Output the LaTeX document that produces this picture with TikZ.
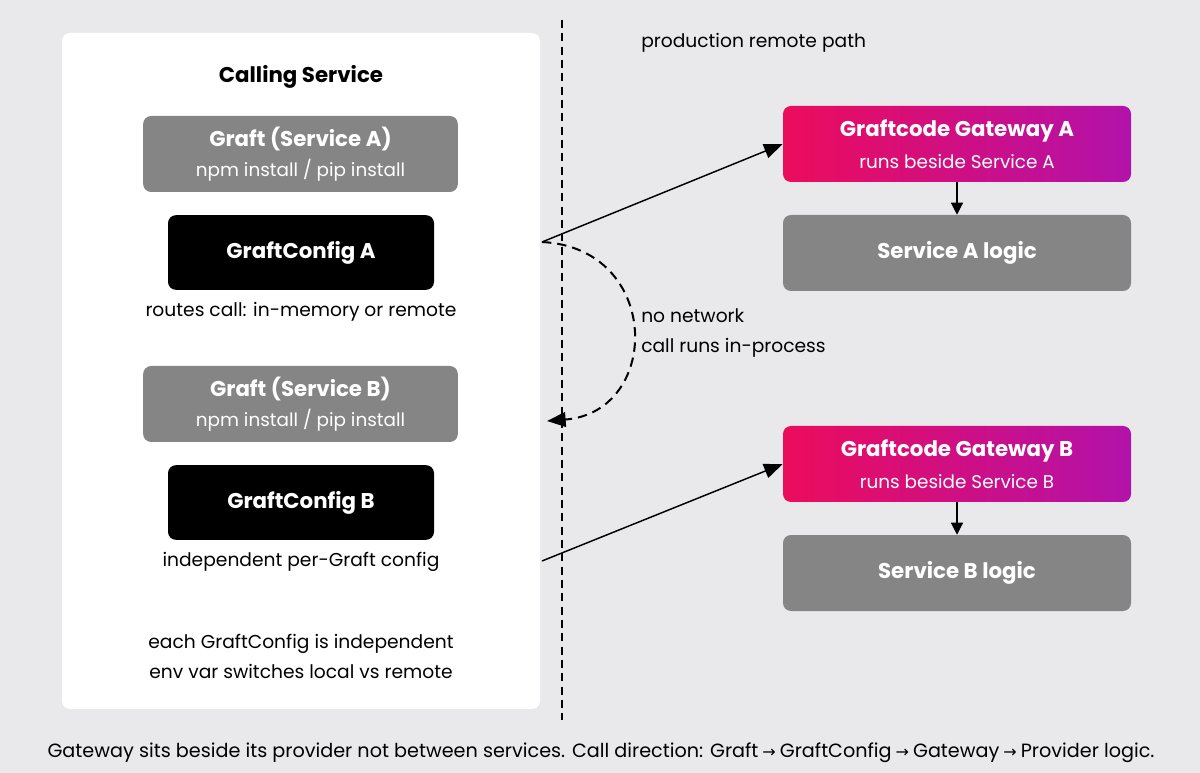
\documentclass[tikz,border=0pt]{standalone}
\usepackage{fontspec}
\setmainfont{Poppins}
\newfontfamily\symfont{DejaVu Sans}
\usetikzlibrary{arrows.meta, positioning}
\definecolor{gfbg}{HTML}{E9E9EC}
\definecolor{gfgrey}{HTML}{858585}
\definecolor{gfpink}{HTML}{EC0C5C}
\definecolor{gfpurple}{HTML}{B212AA}
\newcommand{\gfsub}[1]{{\fontsize{13.8}{16}\selectfont\mdseries #1}}
\newcommand{\gfarr}{\kern3pt{\symfont\fontsize{12}{12}\selectfont →}\kern3pt}

\begin{document}
\begin{tikzpicture}[
      x=0.75pt, y=-0.75pt,
      font=\fontsize{14}{22.5}\selectfont,
      graft/.style={rounded corners=6pt, fill=gfgrey, text=white, align=center,
                    minimum width=236pt, minimum height=57pt,
                    font=\fontsize{16}{23}\selectfont\bfseries},
      cfg/.style={rounded corners=6pt, fill=black, text=white,
                  minimum width=199.5pt, minimum height=56pt,
                  font=\fontsize{16}{19}\selectfont\bfseries},
      gw/.style={rounded corners=6pt, left color=gfpink, right color=gfpurple,
                 text=white, align=center, minimum width=261pt, minimum height=57pt,
                 font=\fontsize{16}{24}\selectfont\bfseries},
      logic/.style={rounded corners=6pt, fill=gfgrey, text=white,
                    minimum width=261pt, minimum height=57pt,
                    font=\fontsize{16}{19}\selectfont\bfseries},
      note/.style={inner sep=0pt, align=center},
      ar/.style={-{Triangle[length=14pt,width=11pt]}, line width=1.1pt},
      sar/.style={-{Triangle[length=9pt,width=9pt]}, line width=0.9pt},
    ]

    % ---------------- background
    \fill[gfbg] (0,0) rectangle (1200,773);
    \useasboundingbox (0,0) rectangle (1200,773);

    % ---------------- left: calling service
    \node[fill=white, rounded corners=6pt, minimum width=358.5pt, minimum height=507pt]
      (panel) at (301,371) {};
    \node[note, font=\fontsize{16}{19}\selectfont\bfseries] (title) at (301,77) {Calling Service};
    \node[graft] (graftA) at (300.5,154) {Graft (Service A)\\\gfsub{npm install / pip install}};
    \node[cfg]   (cfgA)   at (301,252.5) {GraftConfig A};
    \node[note]  (routes) at (301,312) {routes call: in-memory or remote};
    \node[graft] (graftB) at (300.5,404) {Graft (Service B)\\\gfsub{npm install / pip install}};
    \node[cfg]   (cfgB)   at (301,502.5) {GraftConfig B};
    \node[note]  (indep)  at (301,562) {independent per-Graft config};
    \node[note]  (each)   at (301,656) {each GraftConfig is independent\\env var switches local vs remote};

    % ---------------- divider
    \draw[line width=1.1pt, dash pattern=on 6pt off 4pt] (562,20) -- (562,720);

    % ---------------- right: production remote path
    \node[note, anchor=west] (prod) at (641,43) {production remote path};
    \node[gw]    (gwA)    at (957,144) {Graftcode Gateway A\\\gfsub{runs beside Service A}};
    \node[logic] (logicA) at (957,253) {Service A logic};
    \node[gw]    (gwB)    at (957,464) {Graftcode Gateway B\\\gfsub{runs beside Service B}};
    \node[logic] (logicB) at (957,573) {Service B logic};
    \draw[sar] (gwA) -- (logicA);
    \draw[sar] (gwB) -- (logicB);

    % ---------------- connectors
    \coordinate (srcA) at (542,242);
    \coordinate (srcB) at (542,561);
    \coordinate (back) at (547,421);
    \draw[ar] (srcA) -- (gwA.west);
    \draw[ar] (srcB) -- (gwB.west);
    \draw[ar, line width=1.5pt, dash pattern=on 7pt off 4.5pt]
      (srcA) .. controls (662,248) and (662,412) .. (back);
    \node[note, align=left, anchor=west] (local) at (641,333) {no network\\call runs in-process};

    % ---------------- caption
    \node[note, font=\fontsize{14.4}{17}\selectfont] (caption) at (601,753)
      {Gateway sits beside its provider not between services. Call direction: Graft\gfarr GraftConfig\gfarr Gateway\gfarr Provider logic.};
  \end{tikzpicture}
\end{document}
